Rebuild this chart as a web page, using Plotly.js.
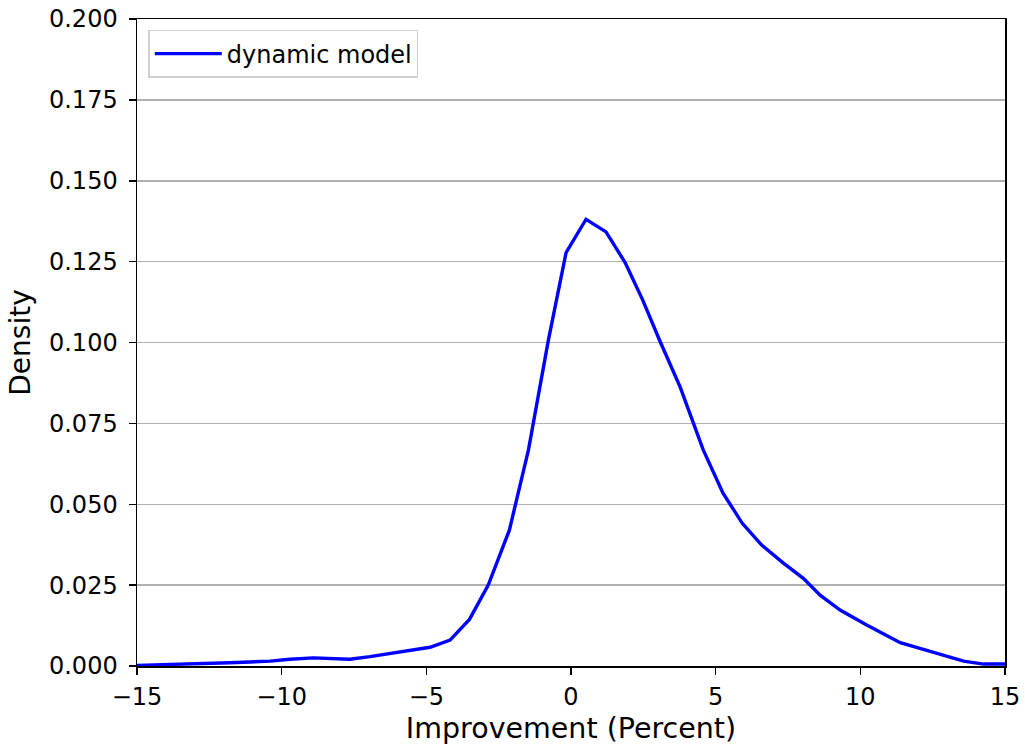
<!DOCTYPE html>
<html>
<head>
<meta charset="utf-8">
<script src="https://cdn.plot.ly/plotly-3.0.1.min.js"></script>
<style>html,body{margin:0;padding:0;background:#fff;}#chart{width:1025px;height:748px;}</style>
</head>
<body>
<div id="chart"></div>
<script>
const improvement = [-15, -12.9, -11.8, -10.4, -9.71, -8.91, -7.64, -6.95, -6.02, -4.87, -4.18, -3.51, -2.86, -2.13, -1.47, -0.78, -0.17, 0.52, 1.21, 1.87, 2.48, 3.08, 3.77, 4.57, 5.25, 5.92, 6.59, 7.33, 8.03, 8.61, 9.30, 10.22, 11.38, 12.53, 13.57, 14.26, 15];
const density = [0.0002, 0.0006, 0.0010, 0.0015, 0.0021, 0.0025, 0.0021, 0.0029, 0.0041, 0.0058, 0.0080, 0.0144, 0.0250, 0.0420, 0.0668, 0.1008, 0.1278, 0.1381, 0.1342, 0.1247, 0.1131, 0.1003, 0.0863, 0.0668, 0.0535, 0.0441, 0.0374, 0.0319, 0.0271, 0.0219, 0.0173, 0.0127, 0.0072, 0.0041, 0.0015, 0.0006, 0.0006];
const seriesName = 'dynamic model';
const yTicks = [0, 0.025, 0.05, 0.075, 0.1, 0.125, 0.15, 0.175, 0.2];
const xTicks = [-15, -10, -5, 0, 5, 10, 15];

const font = 'DejaVu Sans, sans-serif';
Plotly.newPlot('chart', [{
  x: improvement, y: density, type: 'scatter', mode: 'lines', name: seriesName,
  line: {color: '#0000ff', width: 3.4}
}], {
  width: 1025, height: 748,
  margin: {l: 137, r: 20, t: 19, b: 82},
  paper_bgcolor: '#fff', plot_bgcolor: '#fff',
  font: {family: font, color: '#000', size: 24},
  showlegend: true,
  legend: {x: 0.013, y: 0.983, xanchor: 'left', yanchor: 'top', bgcolor: 'rgba(255,255,255,0.8)', bordercolor: '#d0d0d0', borderwidth: 1.5, itemwidth: 67, font: {family: font, size: 24}},
  xaxis: {
    range: [-15, 15], tickvals: xTicks, ticks: 'outside', ticklen: 7, tickwidth: 1.5, tickcolor: '#000',
    showgrid: false, zeroline: false, showline: true, linecolor: '#000', linewidth: 1.5, mirror: true,
    ticklabelstandoff: 2,
    title: {text: 'Improvement (Percent)', font: {family: font, size: 28.5}, standoff: 8},
    tickfont: {family: font, size: 24}
  },
  yaxis: {
    range: [0, 0.2], tickvals: yTicks, tickformat: '.3f', ticks: 'outside', ticklen: 7, tickwidth: 1.5, tickcolor: '#000',
    showgrid: true, gridcolor: '#b0b0b0', gridwidth: 1.5, zeroline: false, showline: true, linecolor: '#000', linewidth: 1.5, mirror: true,
    ticklabelstandoff: 6,
    title: {text: 'Density', font: {family: font, size: 28}, standoff: 10},
    tickfont: {family: font, size: 24}
  }
}, {displayModeBar: false, staticPlot: true});
</script>
</body>
</html>
